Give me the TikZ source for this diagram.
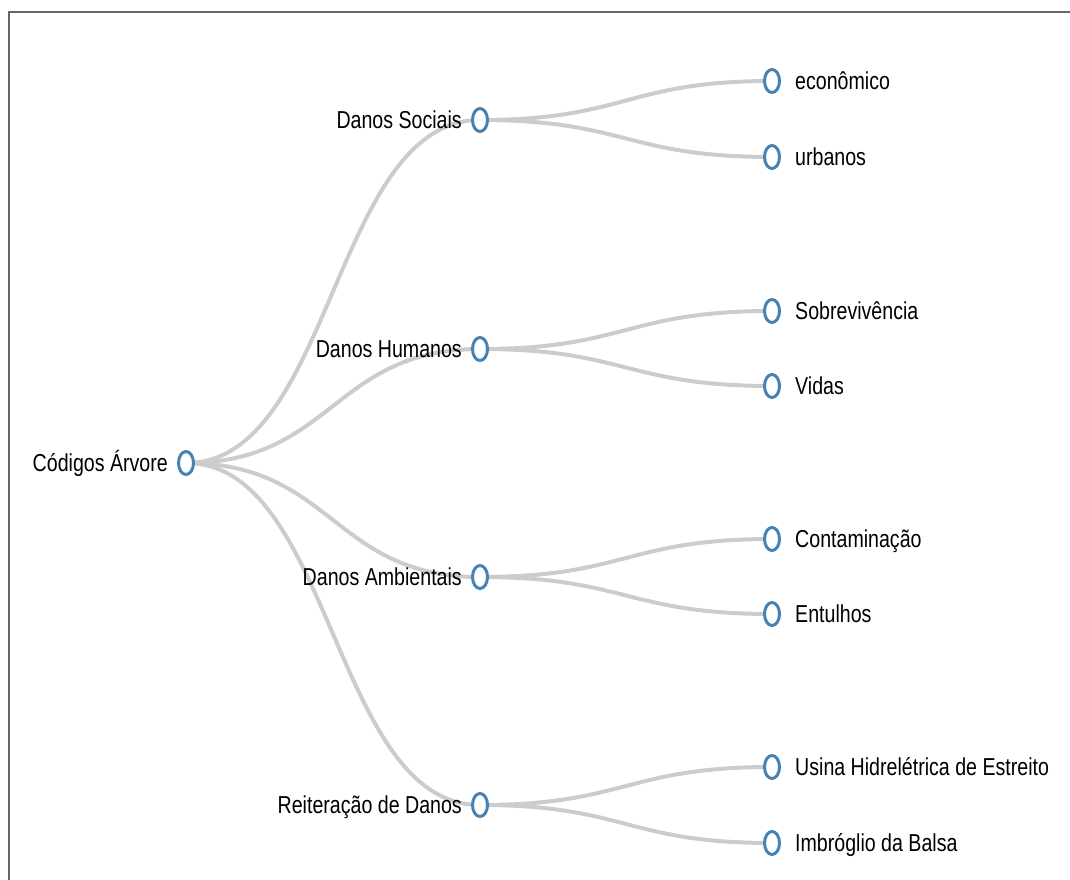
\documentclass[tikz,border=0pt]{standalone}
\usepackage{fontspec}
\setmainfont{Liberation Sans}[FakeStretch=0.8]
\usepackage{tikz}
\usetikzlibrary{positioning, shapes.geometric, backgrounds}
\definecolor{dotblue}{HTML}{4682B4}
\definecolor{linkgray}{HTML}{CCCCCC}
\definecolor{framegray}{HTML}{666666}

\begin{document}
\begin{tikzpicture}[
        x=1pt, y=-1pt,
        every node/.style={font=\fontsize{24.5}{28}\selectfont},
        dot/.style={ellipse, draw=dotblue, fill=white, line width=3pt, minimum width=15pt, minimum height=23pt, inner sep=0pt},
        lft/.style={inner sep=2pt, anchor=base east, yshift=-8.5pt},
        rgt/.style={inner sep=2pt, anchor=base west, yshift=-8.5pt},
        link/.style={draw=linkgray, line width=4pt}
    ]
    \useasboundingbox (0,0) rectangle (1070,880);
    \draw [framegray, line width=2pt] (9,880) -- (9,12) -- (1070,12);

    % Nodes
    \node (raiz) [dot] at (186,463) {};
    \node (raiz-t) [left=7pt of raiz, lft] {Códigos Árvore};

    \node (sociais) [dot] at (480,120) {};
    \node (sociais-t) [left=7pt of sociais, lft] {Danos Sociais};
    \node (humanos) [dot] at (480,349) {};
    \node (humanos-t) [left=7pt of humanos, lft] {Danos Humanos};
    \node (ambientais) [dot] at (480,577) {};
    \node (ambientais-t) [left=7pt of ambientais, lft] {Danos Ambientais};
    \node (reiteracao) [dot] at (480,805) {};
    \node (reiteracao-t) [left=7pt of reiteracao, lft] {Reiteração de Danos};

    \node (economico) [dot] at (772,81) {};
    \node (economico-t) [right=12pt of economico, rgt] {econômico};
    \node (urbanos) [dot] at (772,157) {};
    \node (urbanos-t) [right=12pt of urbanos, rgt] {urbanos};
    \node (sobrevivencia) [dot] at (772,311) {};
    \node (sobrevivencia-t) [right=12pt of sobrevivencia, rgt] {Sobrevivência};
    \node (vidas) [dot] at (772,386) {};
    \node (vidas-t) [right=12pt of vidas, rgt] {Vidas};
    \node (contaminacao) [dot] at (772,539) {};
    \node (contaminacao-t) [right=12pt of contaminacao, rgt] {Contaminação};
    \node (entulhos) [dot] at (772,614) {};
    \node (entulhos-t) [right=12pt of entulhos, rgt] {Entulhos};
    \node (usina) [dot] at (772,767) {};
    \node (usina-t) [right=12pt of usina, rgt] {Usina Hidrelétrica de Estreito};
    \node (balsa) [dot] at (772,843) {};
    \node (balsa-t) [right=12pt of balsa, rgt] {Imbróglio da Balsa};

    % Links
    \coordinate (meio1) at (333,0);
    \coordinate (meio2) at (626,0);
    \begin{scope}[on background layer]
        \foreach \filho in {sociais, humanos, ambientais, reiteracao}
            \draw [link] (raiz.center) .. controls (meio1 |- raiz.center) and (meio1 |- \filho.center) .. (\filho.center);
        \foreach \pai/\filho in {sociais/economico, sociais/urbanos, humanos/sobrevivencia, humanos/vidas,
                                 ambientais/contaminacao, ambientais/entulhos, reiteracao/usina, reiteracao/balsa}
            \draw [link] (\pai.center) .. controls (meio2 |- \pai.center) and (meio2 |- \filho.center) .. (\filho.center);
    \end{scope}

\end{tikzpicture}
\end{document}
